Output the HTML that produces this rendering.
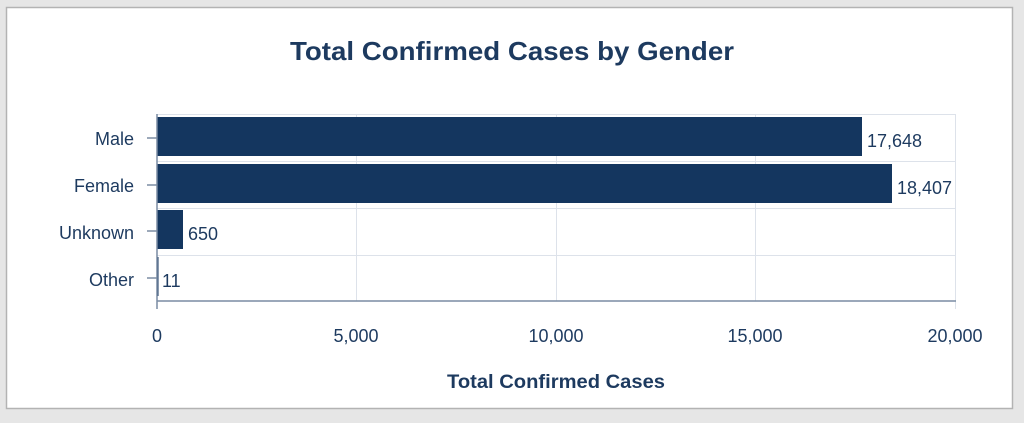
<!DOCTYPE html>
<html><head><style>
html,body{margin:0;padding:0;background:#e6e6e6;width:1024px;height:423px;overflow:hidden}
svg{display:block}
text{font-family:"Liberation Sans",sans-serif;fill:#1d3a5f}
</style></head><body>
<svg width="1024" height="423" viewBox="0 0 1024 423">
<rect x="0" y="0" width="1024" height="423" fill="#e6e6e6"/>
<rect x="6.5" y="7.5" width="1006" height="401" fill="#fff" stroke="#b3b3b3" stroke-width="1.5"/>
<text x="512" y="60" text-anchor="middle" font-size="26" font-weight="bold" fill="#14365f" textLength="444" lengthAdjust="spacingAndGlyphs">Total Confirmed Cases by Gender</text>
<g stroke="#dde2ea" stroke-width="1">
<line x1="157" y1="114.5" x2="956" y2="114.5"/>
<line x1="157" y1="161.5" x2="956" y2="161.5"/>
<line x1="157" y1="208.5" x2="956" y2="208.5"/>
<line x1="157" y1="255.5" x2="956" y2="255.5"/>
<line x1="356.5" y1="114" x2="356.5" y2="301"/>
<line x1="556.5" y1="114" x2="556.5" y2="301"/>
<line x1="755.5" y1="114" x2="755.5" y2="301"/>
<line x1="955.5" y1="114" x2="955.5" y2="309"/>
</g>
<g fill="#14365f">
<rect x="157" y="117" width="705" height="39"/>
<rect x="157" y="164" width="735" height="39"/>
<rect x="157" y="210" width="26" height="39"/>
<rect x="157" y="257" width="1.5" height="39"/>
</g>
<g stroke="#7a8ca3" stroke-width="1.5">
<line x1="157" y1="114" x2="157" y2="309"/>
<line x1="157" y1="301" x2="956" y2="301"/>
<line x1="147" y1="138" x2="157" y2="138"/>
<line x1="147" y1="185" x2="157" y2="185"/>
<line x1="147" y1="231" x2="157" y2="231"/>
<line x1="147" y1="278" x2="157" y2="278"/>
</g>
<g font-size="18" text-anchor="end">
<text x="134" y="145">Male</text>
<text x="134" y="192">Female</text>
<text x="134" y="239">Unknown</text>
<text x="134" y="286">Other</text>
</g>
<g font-size="18">
<text x="867" y="147">17,648</text>
<text x="897" y="194">18,407</text>
<text x="188" y="240">650</text>
<text x="162" y="287">11</text>
</g>
<g font-size="18" text-anchor="middle">
<text x="157" y="342">0</text>
<text x="356" y="342">5,000</text>
<text x="556" y="342">10,000</text>
<text x="755" y="342">15,000</text>
<text x="955" y="342">20,000</text>
</g>
<text x="556" y="388" text-anchor="middle" font-size="19" font-weight="bold" fill="#14365f" textLength="218" lengthAdjust="spacingAndGlyphs">Total Confirmed Cases</text>
</svg>
</body></html>
